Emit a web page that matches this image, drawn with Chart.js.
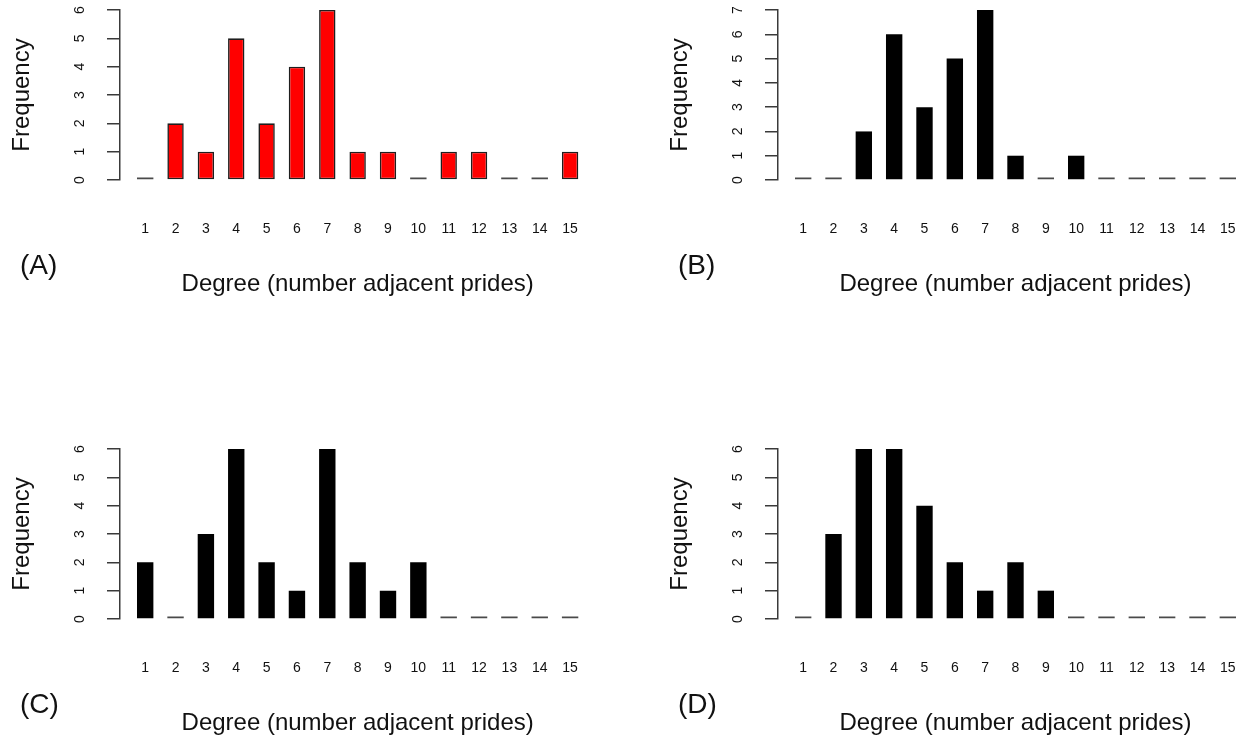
<!DOCTYPE html>
<html>
<head>
<meta charset="utf-8">
<title>Degree distributions</title>
<script src="https://cdn.jsdelivr.net/npm/chart.js@4.4.1/dist/chart.umd.min.js"></script>
<style>
  html, body { margin: 0; padding: 0; background: #fff; overflow: hidden; }
  body { width: 1243px; height: 742px; position: relative; }
  .panel { position: absolute; width: 620px; height: 310px; }
  .panel canvas { display: block; }
</style>
</head>
<body>
<div class="panel" style="left:0;top:0"><canvas id="chartA"></canvas></div>
<div class="panel" style="left:658px;top:0"><canvas id="chartB"></canvas></div>
<div class="panel" style="left:0;top:439px"><canvas id="chartC"></canvas></div>
<div class="panel" style="left:658px;top:439px"><canvas id="chartD"></canvas></div>
<script>
// degree values (x axis)
const degrees = [1, 2, 3, 4, 5, 6, 7, 8, 9, 10, 11, 12, 13, 14, 15];

// frequency per degree, one array per panel
const freqA = [0, 2, 1, 5, 2, 4, 6, 1, 1, 0, 1, 1, 0, 0, 1];
const freqB = [0, 0, 2, 6, 3, 5, 7, 1, 0, 1, 0, 0, 0, 0, 0];
const freqC = [2, 0, 3, 6, 2, 1, 6, 2, 1, 2, 0, 0, 0, 0, 0];
const freqD = [0, 3, 6, 6, 4, 2, 1, 2, 1, 0, 0, 0, 0, 0, 0];

const xTitle = 'Degree (number adjacent prides)';
const yTitle = 'Frequency';

const FONT = '"Liberation Sans", Arial, Helvetica, sans-serif';
const TEXT = '#111';
const AXIS = '#3a3a3a';

// y tick labels drawn parallel to the axis (R style) and the panel letter
const rAxisLabels = {
    id: 'rAxisLabels',
    afterDraw(chart, args, opts) {
        const ctx = chart.ctx;
        const y = chart.scales.y;
        ctx.save();
        ctx.fillStyle = TEXT;
        ctx.font = '14px ' + FONT;
        ctx.textAlign = 'center';
        ctx.textBaseline = 'middle';
        y.ticks.forEach(t => {
            const py = y.getPixelForValue(t.value);
            ctx.save();
            ctx.translate(chart.chartArea.left - 40, py);
            ctx.rotate(-Math.PI / 2);
            ctx.fillText(String(t.value), 0, 0);
            ctx.restore();
        });
        ctx.font = '28px ' + FONT;
        ctx.textAlign = 'left';
        ctx.fillText(opts.letter, 20, 266);
        ctx.restore();
    }
};

function buildPanel(id, letter, values, fill, padRight) {
    const ctx = document.getElementById(id).getContext('2d');
    const maxY = Math.max(...values);
    return new Chart(ctx, {
        type: 'bar',
        data: {
            datasets: [{
                data: values.map((v, i) => ({ x: degrees[i], y: v })),
                backgroundColor: c => (c.raw && c.raw.y === 0) ? '#4a4a4a' : fill,
                borderColor: '#1e1e1e',
                borderWidth: c => (c.raw && c.raw.y === 0) ? 0 : (fill === '#000000' ? 0 : 1.6),
                borderSkipped: false,
                minBarLength: 2.5,
                categoryPercentage: 1,
                barPercentage: 0.54
            }]
        },
        options: {
            responsive: false,
            animation: false,
            devicePixelRatio: 1,
            layout: { padding: { left: 0, top: 10, right: padRight, bottom: 0 } },
            plugins: {
                legend: { display: false },
                tooltip: { enabled: false },
                rAxisLabels: { letter: letter }
            },
            scales: {
                x: {
                    type: 'linear',
                    min: 0.17,
                    max: 15.83,
                    offset: false,
                    afterBuildTicks: s => { s.ticks = degrees.map(v => ({ value: v })); },
                    afterFit: s => { s.height = 130; },
                    grid: { display: false, drawTicks: false, offset: false },
                    border: { display: false },
                    ticks: {
                        padding: 41,
                        autoSkip: false,
                        maxRotation: 0,
                        color: TEXT,
                        font: { family: FONT, size: 14 }
                    },
                    title: {
                        display: true,
                        text: xTitle,
                        color: TEXT,
                        font: { family: FONT, size: 24 },
                        padding: { top: 0, bottom: 11 }
                    }
                },
                y: {
                    min: 0,
                    max: maxY,
                    afterFit: s => { s.width = 120; },
                    ticks: { stepSize: 1, display: false },
                    grid: {
                        drawOnChartArea: false,
                        drawTicks: true,
                        tickLength: 13,
                        color: AXIS,
                        lineWidth: 1.5
                    },
                    border: { display: true, color: AXIS, width: 1.5 },
                    title: {
                        display: true,
                        text: yTitle,
                        color: TEXT,
                        font: { family: FONT, size: 24 },
                        padding: { top: 8, bottom: 0 }
                    }
                }
            }
        },
        plugins: [rAxisLabels]
    });
}

[['chartA', '(A)', freqA, '#ff0000', 21],
 ['chartB', '(B)', freqB, '#000000', 25],
 ['chartC', '(C)', freqC, '#000000', 21],
 ['chartD', '(D)', freqD, '#000000', 25]].forEach(p => {
    const cv = document.getElementById(p[0]);
    cv.width = 620;
    cv.height = 310;
    buildPanel(p[0], p[1], p[2], p[3], p[4]);
});
</script>
</body>
</html>
